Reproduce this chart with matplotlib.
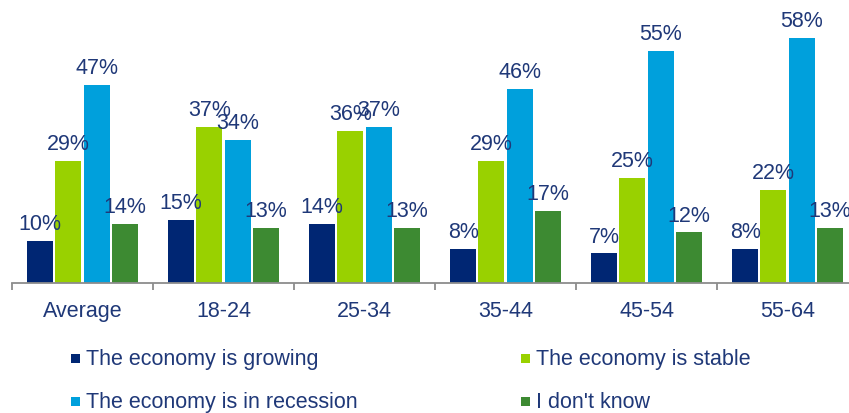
import matplotlib
matplotlib.use("Agg")
import matplotlib.pyplot as plt
from matplotlib.patches import Rectangle
import numpy as np

plt.rcParams["font.family"] = ["Liberation Sans", "DejaVu Sans"]

groups = ["Average", "18-24", "25-34", "35-44", "45-54", "55-64"]
series_names = ["The economy is growing", "The economy is stable",
                "The economy is in recession", "I don't know"]
growing = [10, 15, 14, 8, 7, 8]
stable = [29, 37, 36, 29, 25, 22]
recession = [47, 34, 37, 46, 55, 58]
dont_know = [14, 13, 13, 17, 12, 13]
series_values = [growing, stable, recession, dont_know]
colors = ["#002673", "#99D100", "#00A0DC", "#3D8A32"]
text_color = "#1F3878"

W, H = 849, 414
fig = plt.figure(figsize=(W / 100, H / 100), dpi=100)

# axes: left edge at 12 px, baseline at 284 px, 141 px per group, 4.22 px per %
ax_left = 12 / W
ax_bottom = (H - 284) / H
ax_width = 6 * 141 / W
ax_height = 60 * 4.22 / H
ax = fig.add_axes([ax_left, ax_bottom, ax_width, ax_height])

x = np.arange(len(groups))
step = 0.2
bar_w = 0.185
for i, (vals, col) in enumerate(zip(series_values, colors)):
    offs = (i - 1.5) * step
    ax.bar(x + offs, vals, width=bar_w, color=col, linewidth=0)
    for xi, v in zip(x + offs, vals):
        ax.annotate(f"{v}%", (xi, v), xytext=(0, 8.5), textcoords="offset points",
                    ha="center", va="baseline", fontsize=15.5, color=text_color)

ax.set_xlim(-0.5, len(groups) - 0.5)
ax.set_ylim(0, 60)

for s in ["top", "right", "left"]:
    ax.spines[s].set_visible(False)
ax.spines["bottom"].set_color("#8C8C8C")
ax.spines["bottom"].set_linewidth(1.3)
ax.set_yticks([])

ax.set_xticks(x)
ax.set_xticklabels(groups, fontsize=15.5, color=text_color)
ax.tick_params(axis="x", which="major", length=0, pad=12)
ax.set_xticks(np.arange(-0.5, len(groups) + 0.5, 1), minor=True)
ax.tick_params(axis="x", which="minor", length=5, width=1.3, color="#8C8C8C")

# legend in two columns below the chart
legend_pos = [(71, 355), (521, 355), (71, 398), (521, 398)]
for k, (px, py) in enumerate(legend_pos):
    fig.add_artist(Rectangle((px / W, (H - py - 9) / H), 9 / W, 9 / H,
                             transform=fig.transFigure, color=colors[k], lw=0))
    fig.text((px + 15) / W, (H - py - 4.5) / H, series_names[k], fontsize=15.5,
             color=text_color, ha="left", va="center")

fig.savefig("out.png", dpi=100, facecolor="white")
